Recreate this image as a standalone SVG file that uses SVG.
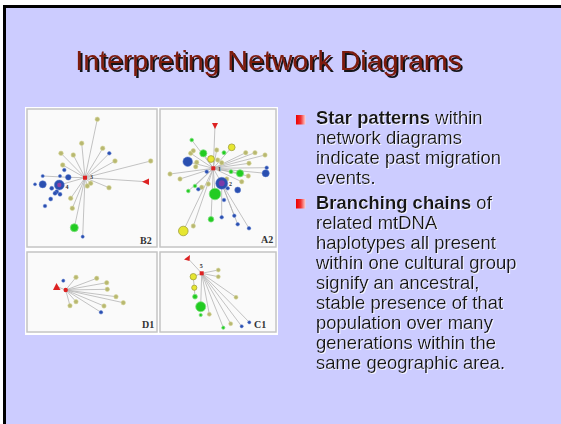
<svg xmlns="http://www.w3.org/2000/svg" width="561" height="424" viewBox="0 0 561 424">
<defs>
<linearGradient id="bul" x1="0" y1="0" x2="1" y2="0">
<stop offset="0" stop-color="#ee0000"/><stop offset="0.5" stop-color="#f03030"/><stop offset="1" stop-color="#ffd0d0"/>
</linearGradient>
<filter id="tsh" x="-5%" y="-20%" width="110%" height="140%">
<feDropShadow dx="2" dy="2" stdDeviation="0.3" flood-color="#000000" flood-opacity="0.9"/>
</filter>
<filter id="wsh" x="-5%" y="-30%" width="110%" height="160%">
<feDropShadow dx="1" dy="1" stdDeviation="0.2" flood-color="#ffffff" flood-opacity="0.8"/>
</filter>
</defs>
<style>
.t{font-family:"Liberation Sans",Arial,sans-serif;font-size:18.5px;fill:#151515}
.b{font-weight:bold}
.panel{fill:#fafafa;stroke:#c4c4c4;stroke-width:1.5}
.e{stroke:#b4b4b4;stroke-width:0.8;fill:none}
.o{fill:#b8b870;stroke:#d8d8a0;stroke-width:0.6}
.bl{fill:#2a4fb0;stroke:#6080d0;stroke-width:0.5}
.g{fill:#22cc22;stroke:#80e080;stroke-width:0.8}
.y{fill:#e6e630;stroke:#a0a040;stroke-width:0.8}
.r{fill:#dd2222}
.lab{font-family:"Liberation Serif","Times New Roman",serif;font-weight:bold;font-size:10px;fill:#333}
.num{font-family:"Liberation Serif","Times New Roman",serif;font-weight:bold;font-size:6px;fill:#333}
</style>
<rect x="0" y="0" width="561" height="424" fill="#ffffff"/>
<rect x="3" y="5" width="558" height="419" fill="#000000"/>
<rect x="6" y="8" width="555" height="416" fill="#ccccff"/>

<g id="title">
<text x="268.5" y="70" text-anchor="middle" font-family="Liberation Sans,Arial,sans-serif" font-size="28.5" fill="#7d1a0a" filter="url(#tsh)">Interpreting Network Diagrams</text>
</g>

<g id="figure">
<rect x="25" y="107" width="253" height="228" fill="#ffffff"/>
</g>

<g id="panel-B2">
<rect class="panel" x="27" y="109" width="130" height="138"/>
<g class="e">
<line x1="85" y1="177.7" x2="97.3" y2="119.3"/><line x1="85" y1="177.7" x2="81.7" y2="143.3"/>
<line x1="85" y1="177.7" x2="61" y2="153.3"/><line x1="85" y1="177.7" x2="73.3" y2="155"/>
<line x1="85" y1="177.7" x2="102.7" y2="148.3"/><line x1="85" y1="177.7" x2="109.3" y2="153.3"/>
<line x1="85" y1="177.7" x2="115" y2="161"/><line x1="85" y1="177.7" x2="150.7" y2="161"/>
<line x1="85" y1="177.7" x2="146" y2="181.7"/><line x1="85" y1="177.7" x2="62.7" y2="165"/>
<line x1="85" y1="177.7" x2="68.3" y2="177.3"/><line x1="68.3" y1="177.3" x2="42.7" y2="176"/>
<line x1="85" y1="177.7" x2="90.7" y2="183.3"/><line x1="85" y1="177.7" x2="87.3" y2="186"/>
<line x1="85" y1="177.7" x2="109" y2="187.7"/><line x1="85" y1="177.7" x2="70.7" y2="198.3"/>
<line x1="85" y1="177.7" x2="72.3" y2="208.3"/><line x1="85" y1="177.7" x2="74.3" y2="227.7"/>
<line x1="85" y1="177.7" x2="82.7" y2="236.7"/><line x1="85" y1="177.7" x2="59.3" y2="185"/>
</g>
<circle class="o" cx="97.3" cy="119.3" r="2.3"/><circle class="o" cx="81.7" cy="143.3" r="2.3"/>
<circle class="o" cx="61" cy="153.3" r="2.3"/><circle class="o" cx="73.3" cy="155" r="2.3"/>
<circle class="o" cx="102.7" cy="148.3" r="2.3"/><circle class="bl" cx="109.3" cy="153.3" r="1.8"/>
<circle class="o" cx="115" cy="161" r="2.3"/><circle class="o" cx="150.7" cy="161" r="2.3"/>
<circle class="o" cx="62.7" cy="165" r="2.3"/><circle class="bl" cx="64.3" cy="170" r="1.8"/>
<circle class="bl" cx="68.3" cy="177.3" r="2.8"/><circle class="bl" cx="42.7" cy="176" r="1.6"/>
<circle class="bl" cx="60" cy="176" r="1.6"/><circle class="o" cx="90.7" cy="183.3" r="2.3"/>
<circle class="o" cx="87.3" cy="186" r="2.3"/><circle class="o" cx="109" cy="187.7" r="2.3"/>
<circle class="o" cx="70.7" cy="198.3" r="2.3"/><circle class="o" cx="72.3" cy="208.3" r="2.3"/>
<circle class="g" cx="74.3" cy="227.7" r="4"/><circle class="bl" cx="82.7" cy="236.7" r="1.6"/>
<circle class="bl" cx="42.7" cy="184.3" r="3.6"/><circle class="bl" cx="35" cy="184.3" r="1.5"/>
<circle class="bl" cx="51.7" cy="188.3" r="2"/><circle class="bl" cx="56.7" cy="191.7" r="2"/>
<circle class="bl" cx="60" cy="194.3" r="2"/><circle class="bl" cx="50.7" cy="199" r="2"/>
<circle class="bl" cx="45" cy="206" r="1.8"/><circle class="bl" cx="55" cy="193.3" r="2"/>
<circle class="bl" cx="59.3" cy="185" r="5"/><circle cx="59.3" cy="185" r="2.2" fill="#9040a0"/>
<rect class="r" x="83" y="175.7" width="4" height="4"/>
<polygon class="r" points="142,181.7 149,178.5 149,185"/>
<text class="num" x="90" y="179">3</text><text class="num" x="65.5" y="189">4</text>
<text class="lab" x="140" y="244">B2</text>
</g>

<g id="panel-A2">
<rect class="panel" x="160" y="109" width="116" height="138"/>
<g class="e">
<line x1="215" y1="125" x2="213.3" y2="168.3"/>
<line x1="213.3" y1="168.3" x2="191.7" y2="140"/><line x1="213.3" y1="168.3" x2="190.7" y2="153.3"/>
<line x1="213.3" y1="168.3" x2="203.3" y2="153.3"/><line x1="213.3" y1="168.3" x2="216.7" y2="150"/>
<line x1="213.3" y1="168.3" x2="231.7" y2="147.3"/><line x1="213.3" y1="168.3" x2="245.7" y2="152.7"/>
<line x1="213.3" y1="168.3" x2="255" y2="152.7"/><line x1="213.3" y1="168.3" x2="265" y2="155"/>
<line x1="213.3" y1="168.3" x2="187.7" y2="161.7"/><line x1="213.3" y1="168.3" x2="249" y2="163.3"/>
<line x1="213.3" y1="168.3" x2="266.7" y2="167.7"/><line x1="213.3" y1="168.3" x2="265.7" y2="173.3"/>
<line x1="213.3" y1="168.3" x2="170" y2="174"/><line x1="213.3" y1="168.3" x2="180" y2="179"/>
<line x1="213.3" y1="168.3" x2="240" y2="173.3"/><line x1="213.3" y1="168.3" x2="248.3" y2="176"/>
<line x1="213.3" y1="168.3" x2="241.7" y2="181.7"/><line x1="213.3" y1="168.3" x2="221.7" y2="183.3"/>
<line x1="213.3" y1="168.3" x2="188.3" y2="191"/><line x1="213.3" y1="168.3" x2="215" y2="194"/>
<line x1="213.3" y1="168.3" x2="211" y2="219.3"/><line x1="213.3" y1="168.3" x2="183.3" y2="231"/>
<line x1="213.3" y1="168.3" x2="193.3" y2="226"/><line x1="221.7" y1="183.3" x2="234.3" y2="215.7"/>
<line x1="221.7" y1="183.3" x2="249" y2="228.3"/><line x1="221.7" y1="183.3" x2="237.7" y2="224.3"/>
<line x1="221.7" y1="183.3" x2="221.7" y2="217.3"/><line x1="213.3" y1="168.3" x2="195" y2="186"/>
</g>
<circle class="g" cx="191.7" cy="140" r="1.8"/><circle class="o" cx="190.7" cy="153.3" r="2.2"/>
<circle class="o" cx="193.3" cy="150.7" r="2.2"/><circle class="g" cx="203.3" cy="153.3" r="3.6"/>
<circle class="o" cx="216.7" cy="150" r="2.2"/><circle class="g" cx="224" cy="152.7" r="2"/>
<circle class="y" cx="231.7" cy="147.3" r="3.4"/><circle class="o" cx="245.7" cy="152.7" r="2.2"/>
<circle class="o" cx="255" cy="152.7" r="2.2"/><circle class="o" cx="265" cy="155" r="2.2"/>
<circle class="bl" cx="187.7" cy="161.7" r="4.8"/><circle class="o" cx="196.7" cy="162.3" r="2.2"/>
<circle class="o" cx="195.7" cy="166.7" r="2.2"/><circle class="y" cx="211" cy="159" r="3.4"/>
<circle class="o" cx="217.7" cy="160" r="2.2"/><circle class="o" cx="221.7" cy="162.7" r="2.2"/>
<circle class="o" cx="249" cy="163.3" r="2.2"/><circle class="bl" cx="266.7" cy="167.7" r="1.8"/>
<circle class="bl" cx="265.7" cy="173.3" r="3.6"/><circle class="o" cx="170" cy="174" r="2.2"/>
<circle class="o" cx="180" cy="179" r="2.2"/><circle class="bl" cx="206.7" cy="171.7" r="1.8"/>
<circle class="g" cx="231" cy="171.7" r="2"/><circle class="g" cx="240" cy="173.3" r="3.6"/>
<circle class="o" cx="248.3" cy="176" r="2.2"/><circle class="o" cx="241.7" cy="181.7" r="2.2"/>
<circle class="o" cx="226.7" cy="179" r="2.2"/><circle class="bl" cx="227.7" cy="188.3" r="1.8"/>
<circle class="bl" cx="237.7" cy="190" r="3"/><circle class="o" cx="208.3" cy="184" r="2.2"/>
<circle class="o" cx="201.7" cy="187.3" r="2.2"/><circle class="bl" cx="198.3" cy="189.3" r="1.8"/>
<circle class="g" cx="195" cy="186" r="1.8"/><circle class="g" cx="188.3" cy="191" r="1.8"/>
<circle class="g" cx="215" cy="194" r="5.8"/><circle class="bl" cx="224" cy="200" r="1.8"/>
<circle class="g" cx="211" cy="219.3" r="2.8"/><circle class="bl" cx="221.7" cy="217.3" r="1.8"/>
<circle class="bl" cx="234.3" cy="215.7" r="1.8"/><circle class="bl" cx="237.7" cy="224.3" r="1.8"/>
<circle class="bl" cx="249" cy="228.3" r="1.8"/><circle class="y" cx="183.3" cy="231" r="4.8"/>
<circle class="o" cx="193.3" cy="226" r="2.2"/>
<circle class="bl" cx="221.7" cy="183.3" r="6"/><circle cx="221.7" cy="183.3" r="3" fill="#7a3aa8"/>
<rect class="r" x="211.3" y="166.3" width="4" height="4"/>
<polygon class="r" points="212,123 218,123 215,129"/>
<text class="num" x="218" y="171">1</text><text class="num" x="229" y="186">2</text>
<text class="lab" x="261" y="243">A2</text>
</g>

<g id="panel-D1">
<rect class="panel" x="27" y="252" width="130" height="80"/>
<g class="e">
<line x1="57.3" y1="286.7" x2="65.7" y2="290"/>
<line x1="65.7" y1="290" x2="76" y2="277.3"/><line x1="65.7" y1="290" x2="96.7" y2="278.3"/>
<line x1="65.7" y1="290" x2="106.7" y2="282.7"/><line x1="65.7" y1="290" x2="107.3" y2="289.3"/>
<line x1="65.7" y1="290" x2="116" y2="296.7"/><line x1="65.7" y1="290" x2="123.3" y2="302.7"/>
<line x1="65.7" y1="290" x2="104" y2="306"/><line x1="65.7" y1="290" x2="76" y2="301.7"/>
<line x1="65.7" y1="290" x2="70" y2="305.7"/><line x1="65.7" y1="290" x2="101" y2="312.3"/>
</g>
<circle class="bl" cx="63.3" cy="280.7" r="1.6"/>
<circle class="o" cx="76" cy="277.3" r="2.2"/><circle class="o" cx="96.7" cy="278.3" r="2.2"/>
<circle class="o" cx="106.7" cy="282.7" r="2.2"/><circle class="o" cx="107.3" cy="289.3" r="2.2"/>
<circle class="o" cx="116" cy="296.7" r="2.2"/><circle class="o" cx="123.3" cy="302.7" r="2.2"/>
<circle class="o" cx="104" cy="306" r="2.2"/><circle class="o" cx="76" cy="301.7" r="2.2"/>
<circle class="o" cx="70" cy="305.7" r="2.2"/><circle class="bl" cx="101" cy="312.3" r="1.8"/>
<circle class="r" cx="65.7" cy="290" r="2.2"/>
<polygon class="r" points="56.5,283 53,290 60.5,290"/>
<text class="lab" x="142" y="328">D1</text>
</g>

<g id="panel-C1">
<rect class="panel" x="160" y="252" width="116" height="80"/>
<g class="e">
<line x1="187.3" y1="257.7" x2="201.7" y2="273.3"/>
<line x1="201.7" y1="273.3" x2="218.3" y2="270"/><line x1="201.7" y1="273.3" x2="218.3" y2="276.7"/>
<line x1="201.7" y1="273.3" x2="193.3" y2="276.7"/><line x1="201.7" y1="273.3" x2="236" y2="297.3"/>
<line x1="201.7" y1="273.3" x2="209.3" y2="314.3"/><line x1="201.7" y1="273.3" x2="223.3" y2="327.7"/>
<line x1="201.7" y1="273.3" x2="230.7" y2="323.7"/><line x1="201.7" y1="273.3" x2="241.7" y2="326.3"/>
<line x1="201.7" y1="273.3" x2="249.3" y2="322.3"/><line x1="201.7" y1="273.3" x2="200.7" y2="306.7"/>
<line x1="193.3" y1="276.7" x2="195" y2="296.7"/>
</g>
<circle class="o" cx="218.3" cy="270" r="2"/><circle class="o" cx="218.3" cy="276.7" r="2"/>
<circle class="y" cx="193.3" cy="276.7" r="3.2"/><circle class="y" cx="194.3" cy="287.7" r="2.6"/>
<circle class="g" cx="195" cy="296.7" r="2.4"/><circle class="g" cx="200.7" cy="306.7" r="5"/>
<circle class="g" cx="200.7" cy="315" r="1.6"/><circle class="o" cx="209.3" cy="314.3" r="2"/>
<circle class="o" cx="236" cy="297.3" r="2"/><circle class="g" cx="223.3" cy="327.7" r="1.6"/>
<circle class="o" cx="230.7" cy="323.7" r="2"/><circle class="bl" cx="241.7" cy="326.3" r="1.6"/>
<circle class="bl" cx="249.3" cy="322.3" r="1.6"/>
<rect class="r" x="199.7" y="271.3" width="4" height="4"/>
<polygon class="r" points="184,259.5 190,255 189.5,261"/>
<text class="num" x="199.8" y="268">5</text>
<text class="lab" x="254" y="328">C1</text>
</g>

<g id="bullets">
<rect x="296" y="115" width="9.5" height="9.5" fill="url(#bul)"/>
<rect x="296" y="199" width="9.5" height="9.5" fill="url(#bul)"/>
<g class="t" filter="url(#wsh)">
<text x="316" y="124"><tspan class="b">Star patterns</tspan> within</text>
<text x="316" y="144">network diagrams</text>
<text x="316" y="164">indicate past migration</text>
<text x="316" y="184">events.</text>
<text x="316" y="209"><tspan class="b">Branching chains</tspan> of</text>
<text x="316" y="229">related mtDNA</text>
<text x="316" y="249">haplotypes all present</text>
<text x="316" y="269">within one cultural group</text>
<text x="316" y="289">signify an ancestral,</text>
<text x="316" y="309">stable presence of that</text>
<text x="316" y="329">population over many</text>
<text x="316" y="349">generations within the</text>
<text x="316" y="369">same geographic area.</text>
</g>
</g>
</svg>
